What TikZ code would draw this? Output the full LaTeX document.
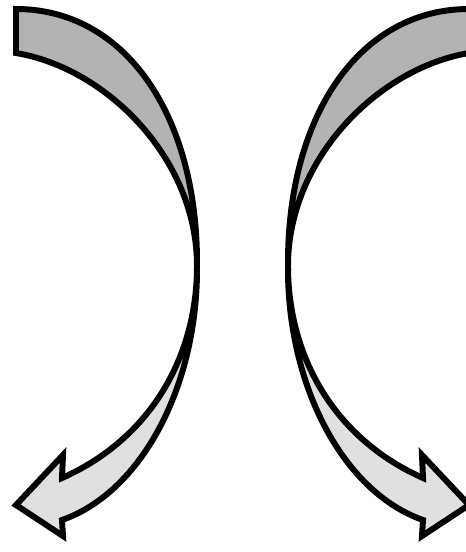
\documentclass[tikz,border=0pt]{standalone}
\usepackage{xcolor}
\definecolor{backgray}{RGB}{179,179,179}
\definecolor{frontgray}{RGB}{224,224,224}
\tikzset{
  band/.style={draw=black, line width=3.4pt, line join=miter, miter limit=20},
}
\begin{document}
\begin{tikzpicture}[x=0.02cm, y=-0.02cm]
\useasboundingbox (0,0) rectangle (466,552);
\clip (0,0) rectangle (466,552);

\foreach \s/\dx in {1/0, -1/485}{
\begin{scope}[shift={(\dx,0)}, xscale=\s]
\filldraw[band, fill=backgray] (16,9) .. controls (125,9) and (198,115) .. (197,266)
  .. controls (197,158) and (106,68) .. (16,53) -- cycle;
\filldraw[band, fill=frontgray] (197,266) .. controls (197,355) and (152,438) .. (62,478)
  -- (63,455) -- (16,505) -- (63,536) -- (62,520)
  .. controls (142,492) and (198,385) .. (197,266) -- cycle;
\end{scope}
}
\end{tikzpicture}
\end{document}
